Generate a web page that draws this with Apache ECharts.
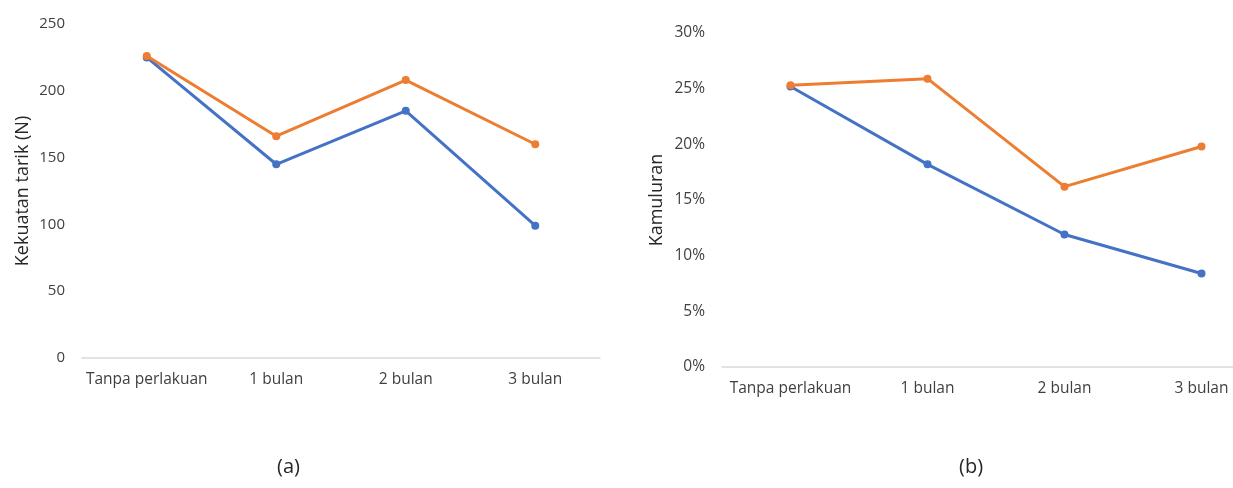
<!DOCTYPE html>
<html>
<head>
<meta charset="utf-8">
<script src="https://cdn.jsdelivr.net/npm/echarts@6/dist/echarts.min.js"></script>
<style>
  html, body { margin: 0; padding: 0; background: #ffffff; }
  #chart { width: 1233px; height: 488px; }
</style>
</head>
<body>
<div id="chart"></div>
<script>
// Storage periods
const categories = ['Tanpa perlakuan', '1 bulan', '2 bulan', '3 bulan'];

// (a) Tensile strength, N
const strengthBlue = [225, 145, 185, 99];
const strengthOrange = [226, 166, 208, 160];

// (b) Elongation, %
const elongBlue = [25.2, 18.2, 11.9, 8.4];
const elongOrange = [25.3, 25.9, 16.2, 19.8];

const BLUE = '#4472C4';
const ORANGE = '#ED7D31';
const FONT = '"Open Sans", "Noto Sans", sans-serif';
const LABEL = '#404040';

function lineSeries(data, color, axisIndex) {
  return {
    type: 'line',
    xAxisIndex: axisIndex,
    yAxisIndex: axisIndex,
    data: data,
    symbol: 'circle',
    symbolSize: 8,
    lineStyle: { color: color, width: 3 },
    itemStyle: { color: color },
    z: color === ORANGE ? 3 : 2
  };
}

const catAxis = (gridIndex) => ({
  type: 'category',
  gridIndex: gridIndex,
  data: categories,
  boundaryGap: true,
  axisLine: { lineStyle: { color: '#d9d9d9', width: 1.5 } },
  axisTick: { show: false },
  axisLabel: { color: LABEL, fontFamily: FONT, fontSize: 15.5, margin: 14, interval: 0 }
});

const chart = echarts.init(document.getElementById('chart'));
chart.setOption({
  animation: false,
  backgroundColor: '#ffffff',
  title: [
    { text: '(a)', left: 272, top: 452, textStyle: { fontFamily: FONT, fontSize: 20, fontWeight: 'normal', color: '#262626' } },
    { text: '(b)', left: 954, top: 452, textStyle: { fontFamily: FONT, fontSize: 20, fontWeight: 'normal', color: '#262626' } }
  ],
  grid: [
    { left: 82, top: 24, width: 518, height: 334, outerBoundsMode: 'none' },
    { left: 722, top: 33, width: 548, height: 334, outerBoundsMode: 'none' }
  ],
  xAxis: [catAxis(0), catAxis(1)],
  yAxis: [
    {
      type: 'value', gridIndex: 0, min: 0, max: 250, interval: 50,
      name: 'Kekuatan tarik (N)', nameLocation: 'middle', nameGap: 50,
      nameTextStyle: { color: '#262626', fontFamily: FONT, fontSize: 18 },
      axisLine: { show: false }, axisTick: { show: false }, splitLine: { show: false },
      axisLabel: { color: LABEL, fontFamily: FONT, fontSize: 15, margin: 17 }
    },
    {
      type: 'value', gridIndex: 1, min: 0, max: 30, interval: 5,
      name: 'Kamuluran', nameLocation: 'middle', nameGap: 56,
      nameTextStyle: { color: '#262626', fontFamily: FONT, fontSize: 18 },
      axisLine: { show: false }, axisTick: { show: false }, splitLine: { show: false },
      axisLabel: { color: LABEL, fontFamily: FONT, fontSize: 15.5, margin: 17, formatter: '{value}%' }
    }
  ],
  series: [
    lineSeries(strengthBlue, BLUE, 0),
    lineSeries(strengthOrange, ORANGE, 0),
    lineSeries(elongBlue, BLUE, 1),
    lineSeries(elongOrange, ORANGE, 1)
  ]
});
</script>
</body>
</html>
